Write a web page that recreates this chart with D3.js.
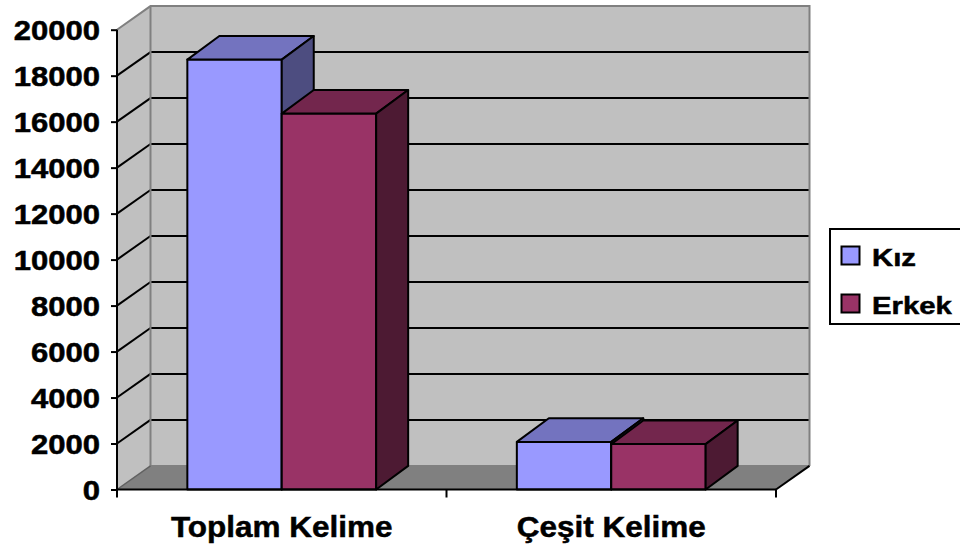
<!DOCTYPE html>
<html>
<head>
<meta charset="utf-8">
<script src="https://cdn.jsdelivr.net/npm/d3@7"></script>
<style>
  html, body { margin: 0; padding: 0; background: #ffffff; }
  svg { display: block; }
  text { font-family: "Liberation Sans", Arial, sans-serif; font-weight: bold; fill: #000; stroke: #000; stroke-width: 0.5px; }
</style>
</head>
<body>
<svg id="chart" width="960" height="546"></svg>
<script>
// ---- data ----
const categories = ["Toplam Kelime", "Çeşit Kelime"];
const seriesNames = ["Kız", "Erkek"];
const kizValues = [18700, 2070];
const erkekValues = [16350, 1975];
const yTicks = [0, 2000, 4000, 6000, 8000, 10000, 12000, 14000, 16000, 18000, 20000];

const seriesColors = {
  "Kız":   { front: "#9999FF", top: "#7373BF", side: "#4D4D80" },
  "Erkek": { front: "#993366", top: "#73264D", side: "#4D1A33" }
};

const svg = d3.select("#chart");

// ---- scales ----
const y = d3.scaleLinear().domain([0, 20000]).range([489.5, 29.7]);
const x = d3.scaleBand().domain(categories).range([117, 776]).paddingInner(0).paddingOuter(0);
const xs = d3.scaleBand().domain(seriesNames).range([0, x.bandwidth()]).paddingInner(0).paddingOuter(0.745);

const DX = 33.5, DY = 23.6;      // depth offset for walls
const BDX = 32, BDY = 23.6;      // depth offset for bars

const x0 = x.range()[0], x1 = x.range()[1];
const yTop = y(20000), yBot = y(0);

const poly = pts => "M" + pts.map(p => p.join(",")).join("L") + "Z";

// ---- walls ----
svg.append("path")
  .attr("d", poly([[x0 + DX, yTop - DY], [x1 + DX, yTop - DY], [x1 + DX, yBot - DY], [x0 + DX, yBot - DY]]))
  .attr("fill", "#C0C0C0");
svg.append("path")
  .attr("d", poly([[x0, yTop], [x0 + DX, yTop - DY], [x0 + DX, yBot - DY], [x0, yBot]]))
  .attr("fill", "#C0C0C0");
svg.append("path")
  .attr("d", poly([[x0, yBot], [x0 + DX, yBot - DY], [x1 + DX, yBot - DY], [x1, yBot]]))
  .attr("fill", "#808080");

// gridlines
const gridTicks = yTicks.filter(t => t > 0 && t < 20000);
svg.append("g").selectAll("line.hg").data(gridTicks).join("line")
  .attr("x1", x0 + DX).attr("x2", x1 + DX)
  .attr("y1", d => y(d) - DY).attr("y2", d => y(d) - DY)
  .attr("stroke", "#000").attr("stroke-width", 2);
svg.append("g").selectAll("line.dg").data(gridTicks).join("line")
  .attr("x1", x0).attr("x2", x0 + DX)
  .attr("y1", d => y(d)).attr("y2", d => y(d) - DY)
  .attr("stroke", "#000").attr("stroke-width", 2);

// wall edges (gray)
const edge = "#808080";
svg.append("path")
  .attr("d", `M${x0},${yTop}L${x0 + DX},${yTop - DY}L${x1 + DX},${yTop - DY}L${x1 + DX},${yBot - DY}`)
  .attr("fill", "none").attr("stroke", edge).attr("stroke-width", 2);
svg.append("path")
  .attr("d", `M${x0 + DX},${yTop - DY}L${x0 + DX},${yBot - DY}L${x1 + DX},${yBot - DY}`)
  .attr("fill", "none").attr("stroke", edge).attr("stroke-width", 2);
svg.append("line")
  .attr("x1", x0).attr("y1", yBot).attr("x2", x0 + DX).attr("y2", yBot - DY)
  .attr("stroke", "#606060").attr("stroke-width", 1.5);
svg.append("line")
  .attr("x1", x1).attr("y1", yBot).attr("x2", x1 + DX).attr("y2", yBot - DY)
  .attr("stroke", "#000").attr("stroke-width", 2);

// ---- bars ----
const bars = [];
categories.forEach((c, i) => {
  bars.push({ cat: c, s: "Kız", v: kizValues[i] });
  bars.push({ cat: c, s: "Erkek", v: erkekValues[i] });
});
const bw = xs.bandwidth();
const barG = svg.append("g");
bars.forEach(b => {
  const bx = x(b.cat) + xs(b.s);
  const by = y(b.v);
  const col = seriesColors[b.s];
  const g = barG.append("g");
  g.append("path")
    .attr("d", poly([[bx, by], [bx + bw, by], [bx + bw, yBot], [bx, yBot]]))
    .attr("fill", col.front).attr("stroke", "#000").attr("stroke-width", 2).attr("stroke-linejoin", "round");
  g.append("path")
    .attr("d", poly([[bx, by], [bx + BDX, by - BDY], [bx + bw + BDX, by - BDY], [bx + bw, by]]))
    .attr("fill", col.top).attr("stroke", "#000").attr("stroke-width", 2).attr("stroke-linejoin", "round");
  g.append("path")
    .attr("d", poly([[bx + bw, by], [bx + bw + BDX, by - BDY], [bx + bw + BDX, yBot - BDY], [bx + bw, yBot]]))
    .attr("fill", col.side).attr("stroke", "#000").attr("stroke-width", 2).attr("stroke-linejoin", "round");
});

// ---- axes ----
const yAxisG = svg.append("g").attr("transform", `translate(${x0},0)`)
  .call(d3.axisLeft(y).tickValues(yTicks).tickSize(6).tickFormat(""));
yAxisG.select(".domain").attr("stroke", "#000").attr("stroke-width", 2).attr("d", `M0,${yTop}V${yBot}`);
yAxisG.selectAll(".tick line").attr("stroke", "#000").attr("stroke-width", 2);

svg.append("g").selectAll("text.yl").data(yTicks).join("text")
  .attr("transform", d => `translate(100,${y(d) + 10}) scale(1.15,1)`)
  .attr("text-anchor", "end")
  .attr("font-size", 27)
  .text(d => d);

const xAxisG = svg.append("g").attr("transform", `translate(0,${yBot})`)
  .call(d3.axisBottom(x).tickSize(0).tickFormat(""));
xAxisG.select(".domain").attr("stroke", "#000").attr("stroke-width", 2).attr("d", `M${x0},0H${x1}`);
const xTickPos = [x0].concat(categories.map(c => x(c) + x.bandwidth()));
svg.append("g").selectAll("line.xt").data(xTickPos).join("line")
  .attr("x1", d => d).attr("x2", d => d)
  .attr("y1", yBot).attr("y2", yBot + 8)
  .attr("stroke", "#000").attr("stroke-width", 2);

svg.append("g").selectAll("text.xl").data(categories).join("text")
  .attr("transform", d => `translate(${x(d) + x.bandwidth() / 2},536.5) scale(1.05,1)`)
  .attr("text-anchor", "middle")
  .attr("font-size", 30)
  .text(d => d);

// ---- legend ----
const lg = svg.append("g");
lg.append("rect")
  .attr("x", 830).attr("y", 229).attr("width", 140).attr("height", 95)
  .attr("fill", "#fff").attr("stroke", "#000").attr("stroke-width", 2);
const legendY = [256, 304];
seriesNames.forEach((s, i) => {
  lg.append("rect")
    .attr("x", 841.5).attr("y", legendY[i] - 9.5).attr("width", 18).attr("height", 18)
    .attr("fill", seriesColors[s].front).attr("stroke", "#000").attr("stroke-width", 2);
  lg.append("text")
    .attr("transform", `translate(872,${legendY[i] + 9.5}) scale(1.22,1)`)
    .attr("font-size", 24)
    .text(s);
});
</script>
</body>
</html>
